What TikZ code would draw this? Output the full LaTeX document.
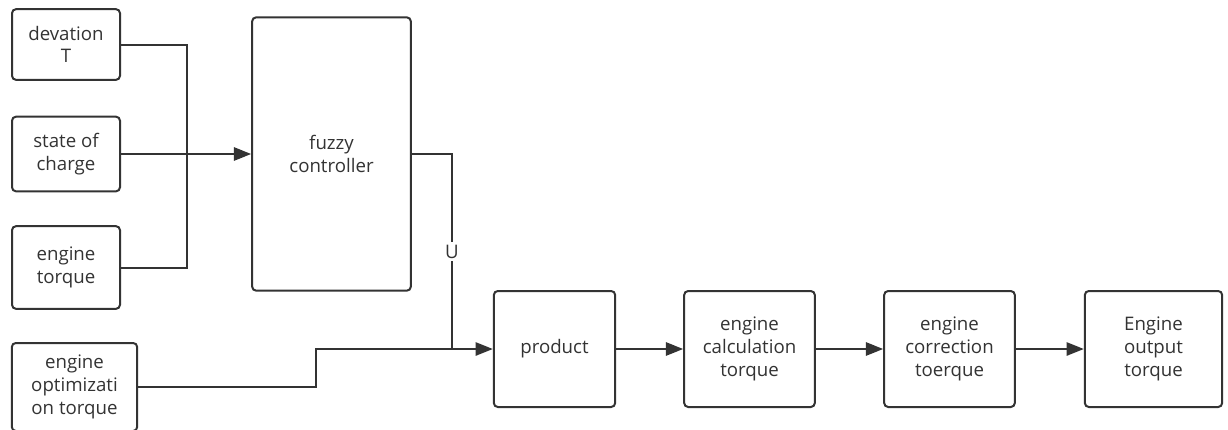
\documentclass[tikz,border=0pt]{standalone}
\usepackage{fontspec}
\setmainfont{Open Sans}
\usetikzlibrary{arrows.meta}

\definecolor{ink}{HTML}{333333}

\begin{document}
\begin{tikzpicture}[x=0.75pt,y=-0.75pt,
    line width=1.5pt, draw=ink, text=ink,
    >={Triangle[length=13pt,width=10pt]},
    blk/.style={draw=ink,rounded corners=3pt,align=center,inner sep=0pt,
      font=\fontsize{14}{17}\selectfont}]
  \useasboundingbox (0,0) rectangle (1228,429);

  \begin{scope}[every node/.style={blk}]
    \node (dev) [minimum width=81pt,minimum height=53pt] at (66,44.5) {devation\\T};
    \node (soc) [minimum width=81pt,minimum height=56pt] at (66,154) {state of\\charge};
    \node (etq) [minimum width=81pt,minimum height=62pt] at (66,267.5) {engine\\torque};
    \node (opt) [minimum width=94pt,minimum height=66pt] at (74.5,387) {engine\\optimizati\\on torque};
    \node (fuzzy) [minimum width=119pt,minimum height=205pt] at (331.5,154) {fuzzy\\controller};
    \node (prod) [minimum width=91pt,minimum height=87pt] at (554.5,349) {product};
    \node (calc) [minimum width=98pt,minimum height=87pt] at (749.5,349) {engine\\calculation\\torque};
    \node (corr) [minimum width=98pt,minimum height=87pt] at (949.5,349) {engine\\correction\\toerque};
    \node (out) [minimum width=103pt,minimum height=87pt] at (1153.5,349) {Engine\\output\\torque};
  \end{scope}

  \coordinate (join) at (187,154);
  \coordinate (ujoin) at (452,349);
  \coordinate (step1) at (316,368);

  % inputs of the controller
  \draw [ink] (dev.east) -| (join) |- (etq.east);
  \draw [ink,->] (soc) -- (fuzzy);

  % controller output and optimisation branch
  \draw [ink] (fuzzy.east) -| (ujoin)
    node [pos=0.75,fill=white,inner sep=2pt,text=ink,font=\fontsize{14}{16}\selectfont] {U};
  \draw [ink,->] (opt.east) -| (step1) |- (prod.west);

  % chain to the output torque
  \draw [ink,->] (prod) -- (calc);
  \draw [ink,->] (calc) -- (corr);
  \draw [ink,->] (corr) -- (out);
\end{tikzpicture}
\end{document}
